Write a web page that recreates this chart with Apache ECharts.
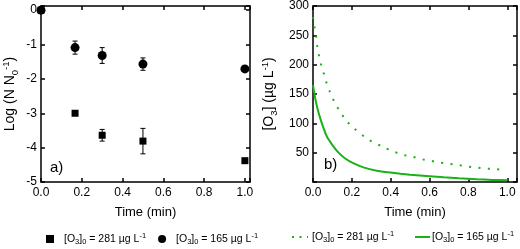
<!DOCTYPE html>
<html>
<head>
<meta charset="utf-8">
<script src="https://cdn.jsdelivr.net/npm/echarts@6/dist/echarts.min.js"></script>
<style>html,body{margin:0;padding:0;background:#fff}#c{width:520px;height:249px}</style>
</head>
<body>
<div id="c"></div>
<script>
// ---- data ----
const timeMin = [0, 0.167, 0.3, 0.5, 1.0];
const logN281 = [0, -3.0, -3.64, -3.81, -4.38];
const err281  = [0, 0, 0.17, 0.37, 0];
const logN165 = [0, -1.09, -1.32, -1.57, -1.71];
const err165  = [0, 0.19, 0.23, 0.18, 0];

const curveT281 = [0, 0.007, 0.016, 0.021, 0.029, 0.04, 0.054, 0.067, 0.084, 0.102, 0.124, 0.148, 0.178, 0.211, 0.248, 0.288, 0.33, 0.375, 0.421, 0.468, 0.513, 0.562, 0.609, 0.657, 0.706, 0.754, 0.802, 0.85, 0.899, 0.947, 0.995];
const curveO3_281 = [281, 265, 249, 233.5, 218, 202, 187, 171.6, 156, 142, 128.4, 115.4, 102.3, 91.5, 81.3, 71.6, 64.8, 57.4, 51.1, 46, 43, 38.7, 35.8, 32.9, 30.7, 28.5, 26.1, 24.4, 22.7, 21.6, 19.9];
const curveT165 = [0, 0.01, 0.021, 0.035, 0.052, 0.072, 0.1, 0.129, 0.164, 0.207, 0.259, 0.328, 0.397, 0.45, 0.5, 0.6, 0.673, 0.75, 0.845, 0.92, 1.0];
const curveO3_165 = [165, 145, 128, 111, 94, 77, 63, 51, 40.5, 32, 25, 19.3, 16, 14, 12.5, 10, 8, 6.3, 4.6, 3.6, 2.9];

const xTicksA = [0, 0.2, 0.4, 0.6, 0.8, 1.0];
const yTicksA = [-5, -4, -3, -2, -1, 0];
const yTicksB = [50, 100, 150, 200, 250, 300];

const GREEN = '#17b317';
const FONT = 'Liberation Sans, Arial, sans-serif';

const zip = (a, b) => a.map((v, i) => [v, b[i]]);
const zip3 = (a, b, c) => a.map((v, i) => [v, b[i], c[i]]);

const isTick = (v, list) => list.some(t => Math.abs(t - v) < 1e-6);

function axisX(grid, min, max, show) {
  return {
    gridIndex: grid, type: 'value', min: min, max: max, interval: 0.2,
    position: show ? 'bottom' : 'top',
    splitLine: {show: false},
    axisLine: {show: true, onZero: false, lineStyle: {color: '#000', width: 1.5}},
    axisTick: {show: true, inside: true, length: 4, lineStyle: {color: '#000', width: 1.5}},
    axisLabel: {show: show, margin: 5, color: '#000', fontSize: 12, fontFamily: FONT,
      formatter: v => isTick(v, xTicksA) ? v.toFixed(1) : ''},
    name: show ? 'Time (min)' : '', nameLocation: 'middle', nameGap: 24,
    nameTextStyle: {color: '#000', fontSize: 13, fontFamily: FONT}
  };
}

const richName = {
  sub: {fontSize: 9.5, verticalAlign: 'bottom', lineHeight: 9, fontFamily: FONT, color: '#000'},
  sup: {fontSize: 9.5, verticalAlign: 'top', lineHeight: 9, fontFamily: FONT, color: '#000'}
};
const richLeg = {
  sub: {fontSize: 7.5, verticalAlign: 'bottom', lineHeight: 7, fontFamily: FONT, color: '#000'},
  sup: {fontSize: 7.5, verticalAlign: 'top', lineHeight: 7, fontFamily: FONT, color: '#000'}
};

const legendNames = {
  's281': '[O{sub|3}]{sub|0} = 281 µg L{sup|-1}',
  's165': '[O{sub|3}]{sub|0} = 165 µg L{sup|-1}',
  'c281': '[O{sub|3}]{sub|0} = 281 µg L{sup|-1}',
  'c165': '[O{sub|3}]{sub|0} = 165 µg L{sup|-1}'
};

const chart = echarts.init(document.getElementById('c'), null, {renderer: 'canvas'});

function errorBars() {
  return function (params, api) {
    const x = api.value(0), y = api.value(1), e = api.value(2);
    if (!e) return null;
    const t = api.coord([x, y + e]), b = api.coord([x, y - e]);
    const w = 2.5;
    const st = {stroke: '#000', lineWidth: 1};
    return {type: 'group', children: [
      {type: 'line', shape: {x1: t[0], y1: t[1], x2: b[0], y2: b[1]}, style: st},
      {type: 'line', shape: {x1: t[0] - w, y1: t[1], x2: t[0] + w, y2: t[1]}, style: st},
      {type: 'line', shape: {x1: b[0] - w, y1: b[1], x2: b[0] + w, y2: b[1]}, style: st}
    ]};
  };
}

const legendText = (pad) => ({color: '#000', fontSize: 10.5, fontFamily: FONT, lineHeight: 14, rich: richLeg, padding: [0, 0, 0, pad]});

chart.setOption({
  animation: false,
  backgroundColor: '#fff',
  grid: [
    {left: 41, top: 6, width: 209, height: 176},
    {left: 313, top: 6, width: 204, height: 176}
  ],
  xAxis: [
    axisX(0, 0, 1.025, true), axisX(0, 0, 1.025, false),
    axisX(1, 0, 1.05, true), axisX(1, 0, 1.05, false)
  ],
  yAxis: [
    {gridIndex: 0, type: 'value', min: -5, max: 0.12, interval: 1, position: 'left',
      splitLine: {show: false},
      axisLine: {show: true, onZero: false, lineStyle: {color: '#000', width: 1.5}},
      axisTick: {show: true, inside: true, length: 4, lineStyle: {color: '#000', width: 1.5}},
      axisLabel: {margin: 4, color: '#000', fontSize: 12, fontFamily: FONT,
        formatter: v => isTick(v, yTicksA) ? String(Math.round(v)) : ''},
      name: 'Log (N N{sub|0}{sup|-1})', nameLocation: 'middle', nameGap: 21,
      nameTextStyle: {color: '#000', fontSize: 14, fontFamily: FONT, lineHeight: 19, rich: richName}},
    {gridIndex: 0, type: 'value', min: -5, max: 0.12, interval: 1, position: 'right',
      splitLine: {show: false},
      axisLine: {show: true, onZero: false, lineStyle: {color: '#000', width: 1.5}},
      axisTick: {show: true, inside: true, length: 4, lineStyle: {color: '#000', width: 1.5}},
      axisLabel: {show: false}},
    {gridIndex: 1, type: 'value', min: 0, max: 300, interval: 50, position: 'left',
      splitLine: {show: false},
      axisLine: {show: true, onZero: false, lineStyle: {color: '#000', width: 1.5}},
      axisTick: {show: true, inside: true, length: 4, lineStyle: {color: '#000', width: 1.5}},
      axisLabel: {margin: 4, color: '#000', fontSize: 12, fontFamily: FONT,
        formatter: v => isTick(v, yTicksB) ? String(v) : ''},
      name: '[O{sub|3}] (µg L{sup|-1})', nameLocation: 'middle', nameGap: 34,
      nameTextStyle: {color: '#000', fontSize: 14, fontFamily: FONT, lineHeight: 19, rich: richName}},
    {gridIndex: 1, type: 'value', min: 0, max: 300, interval: 50, position: 'right',
      splitLine: {show: false},
      axisLine: {show: true, onZero: false, lineStyle: {color: '#000', width: 1.5}},
      axisTick: {show: true, inside: true, length: 4, lineStyle: {color: '#000', width: 1.5}},
      axisLabel: {show: false}}
  ],
  legend: [
    {data: ['s281', 's165'], left: 46, top: 232, padding: 0, itemWidth: 8, itemHeight: 8, itemGap: 12,
      itemStyle: {opacity: 1},
      formatter: n => legendNames[n], textStyle: legendText(5)},
    {data: [{name: 'c281', lineStyle: {type: [2, 5.5], width: 2, cap: 'butt'}}],
      left: 291, top: 230, padding: 0, itemWidth: 16, itemHeight: 10,
      itemStyle: {opacity: 0},
      formatter: n => legendNames[n], textStyle: legendText(-1)},
    {data: ['c165'],
      left: 414, top: 230, padding: 0, itemWidth: 15, itemHeight: 10,
      itemStyle: {opacity: 0},
      formatter: n => legendNames[n], textStyle: legendText(-3)}
  ],
  graphic: [
    {type: 'text', left: 50, top: 160, style: {text: 'a)', fontSize: 15, fontFamily: FONT, fill: '#000'}},
    {type: 'text', left: 324, top: 157, style: {text: 'b)', fontSize: 15, fontFamily: FONT, fill: '#000'}}
  ],
  series: [
    {type: 'custom', xAxisIndex: 0, yAxisIndex: 0, renderItem: errorBars(), data: zip3(timeMin, logN281, err281), z: 3, silent: true},
    {type: 'custom', xAxisIndex: 0, yAxisIndex: 0, renderItem: errorBars(), data: zip3(timeMin, logN165, err165), z: 3, silent: true},
    {name: 's281', type: 'scatter', xAxisIndex: 0, yAxisIndex: 0, symbol: 'rect', symbolSize: 7,
      itemStyle: {color: '#000', opacity: 1}, data: zip(timeMin, logN281), z: 4},
    {name: 's165', type: 'scatter', xAxisIndex: 0, yAxisIndex: 0, symbol: 'circle', symbolSize: 9,
      itemStyle: {color: '#000', opacity: 1}, data: zip(timeMin, logN165), z: 4},
    {name: 'c281', type: 'line', xAxisIndex: 2, yAxisIndex: 2, symbol: 'none', smooth: 0.2,
      lineStyle: {color: GREEN, width: 2, type: [2, 7.4], cap: 'butt'}, itemStyle: {color: GREEN},
      data: zip(curveT281, curveO3_281)},
    {name: 'c165', type: 'line', xAxisIndex: 2, yAxisIndex: 2, symbol: 'none', smooth: 0.2,
      lineStyle: {color: GREEN, width: 2}, itemStyle: {color: GREEN},
      data: zip(curveT165, curveO3_165)}
  ]
});
</script>
</body>
</html>
